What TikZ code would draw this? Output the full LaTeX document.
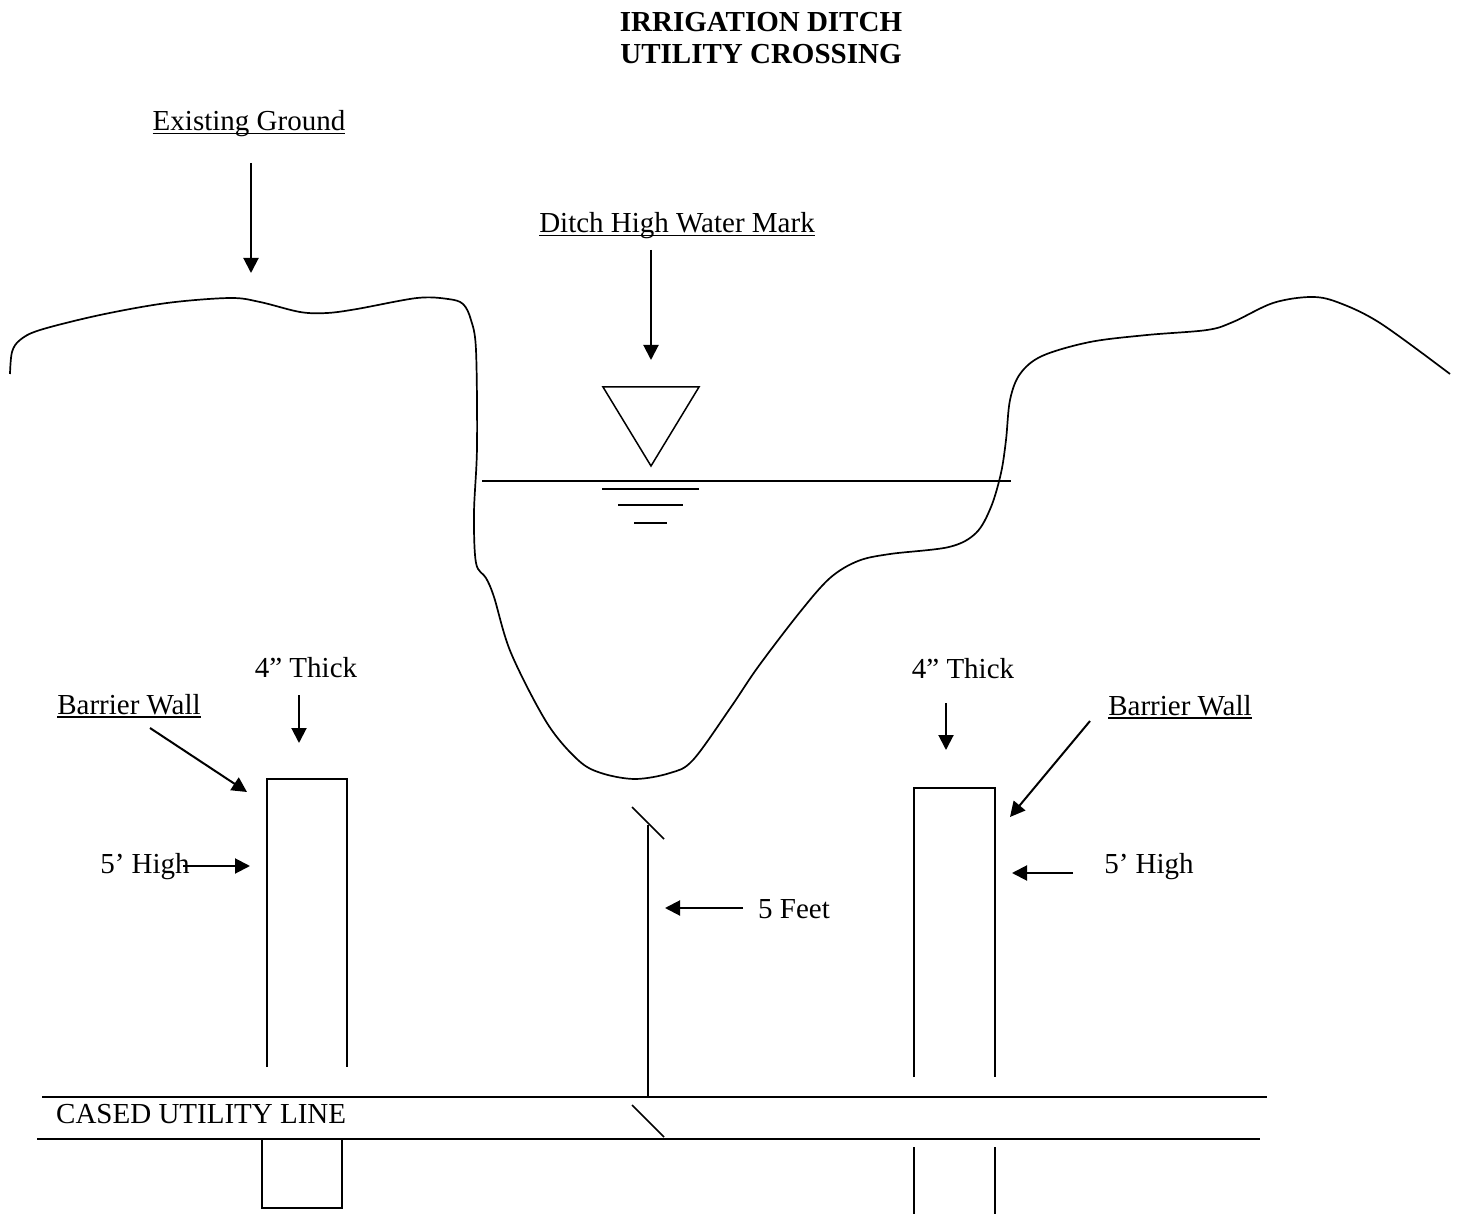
\documentclass[tikz,border=0pt]{standalone}
\usepackage{fontspec}
\setmainfont{Liberation Serif}
\usetikzlibrary{arrows.meta}
\newcommand{\ulabel}[1]{\setbox0\hbox{#1}\rlap{\rule[-3.5pt]{\wd0}{1.8pt}}\box0}
\tikzset{
  lbl/.style={anchor=base, inner sep=0pt, font=\fontsize{29}{33}\selectfont},
  ttl/.style={lbl, font=\fontsize{29}{33}\selectfont\bfseries},
  arr/.style={line width=2pt, -{Triangle[length=15pt,width=15pt]}},
  ln/.style={line width=1.5pt},
}
\begin{document}
\begin{tikzpicture}[x=1pt, y=-1pt]
    \useasboundingbox (0,0) rectangle (1460,1214);
    \node[ttl] (title1) at (761,32) {IRRIGATION DITCH};
    \node[ttl] (title2) at (761,64) {UTILITY CROSSING};

    \draw[line width=1.7pt] plot[smooth, tension=0.55] coordinates {
        (10,374) (12,352) (20,340) (40,330) (100,315) (167,303) (230,298)
        (260,302) (300,312) (327,313) (357,309) (417,298) (448,299)
        (463,304) (471,320) (476,350) (477,447) (474,513) (476,563)
        (486,578) (494,597) (511,653) (547,723) (578,760) (601,773)
        (635,779) (670,773) (693,760) (731,707) (758,667) (800,612)
        (830,578) (858,561) (890,554) (949,547) (976,533) (991,507)
        (1001,473) (1006,440) (1010,400) (1020,374) (1042,356) (1090,342)
        (1147,335) (1207,330) (1233,322) (1273,303) (1310,297) (1337,302)
        (1380,323) (1450,374)};

    \node[lbl] (ground) at (249,131) {\ulabel{Existing Ground}};
    \coordinate (groundA) at (251,163);
    \coordinate (groundB) at (251,273);
    \draw[arr] (groundA) -- (groundB);

    \node[lbl] (hwm) at (677,233) {\ulabel{Ditch High Water Mark}};
    \coordinate (hwmA) at (651,250);
    \coordinate (hwmB) at (651,360);
    \draw[arr] (hwmA) -- (hwmB);
    \draw[ln] (603,387) -- (699,387) -- (651,466) -- cycle;
    \draw[line width=1.8pt] (482,481) -- (1011,481);
    \draw[ln] (602,489) -- (699,489);
    \draw[ln] (618,505) -- (683,505);
    \draw[ln] (634,523) -- (667,523);

    \draw[ln] (267,1067) -- (267,779) -- (347,779) -- (347,1067);
    \draw[ln] (262,1139) -- (262,1208) -- (342,1208) -- (342,1139);
    \node[lbl] (wallL) at (129,714) {\ulabel{Barrier Wall}};
    \coordinate (wallLA) at (150,728);
    \coordinate (wallLB) at (247,792);
    \draw[arr] (wallLA) -- (wallLB);
    \node[lbl] (thickL) at (306,677) {4” Thick};
    \coordinate (thickLA) at (299,695);
    \coordinate (thickLB) at (299,743);
    \draw[arr] (thickLA) -- (thickLB);
    \node[lbl] (highL) at (145,873) {5’ High};
    \coordinate (highLA) at (183,866);
    \coordinate (highLB) at (250,866);
    \draw[arr] (highLA) -- (highLB);

    \draw[ln] (914,1077) -- (914,788) -- (995,788) -- (995,1077);
    \draw[ln] (914,1147) -- (914,1214);
    \draw[ln] (995,1147) -- (995,1214);
    \node[lbl] (thickR) at (963,678) {4” Thick};
    \coordinate (thickRA) at (946,703);
    \coordinate (thickRB) at (946,750);
    \draw[arr] (thickRA) -- (thickRB);
    \node[lbl] (wallR) at (1180,715) {\ulabel{Barrier Wall}};
    \coordinate (wallRA) at (1090,721);
    \coordinate (wallRB) at (1010,817);
    \draw[arr] (wallRA) -- (wallRB);
    \node[lbl] (highR) at (1149,873) {5’ High};
    \coordinate (highRA) at (1073,873);
    \coordinate (highRB) at (1012,873);
    \draw[arr] (highRA) -- (highRB);

    \draw[ln] (632,807) -- (664,839);
    \draw[ln] (648,825) -- (648,1097);
    \node[lbl] (feet) at (794,918) {5 Feet};
    \coordinate (feetA) at (743,908);
    \coordinate (feetB) at (665,908);
    \draw[arr] (feetA) -- (feetB);
    \draw[ln] (632,1105) -- (664,1137);

    \draw[line width=1.8pt] (42,1097) -- (1267,1097);
    \draw[line width=1.8pt] (37,1139) -- (1260,1139);
    \node[lbl, anchor=base west] (pipe) at (56,1123) {CASED UTILITY LINE};
\end{tikzpicture}
\end{document}
